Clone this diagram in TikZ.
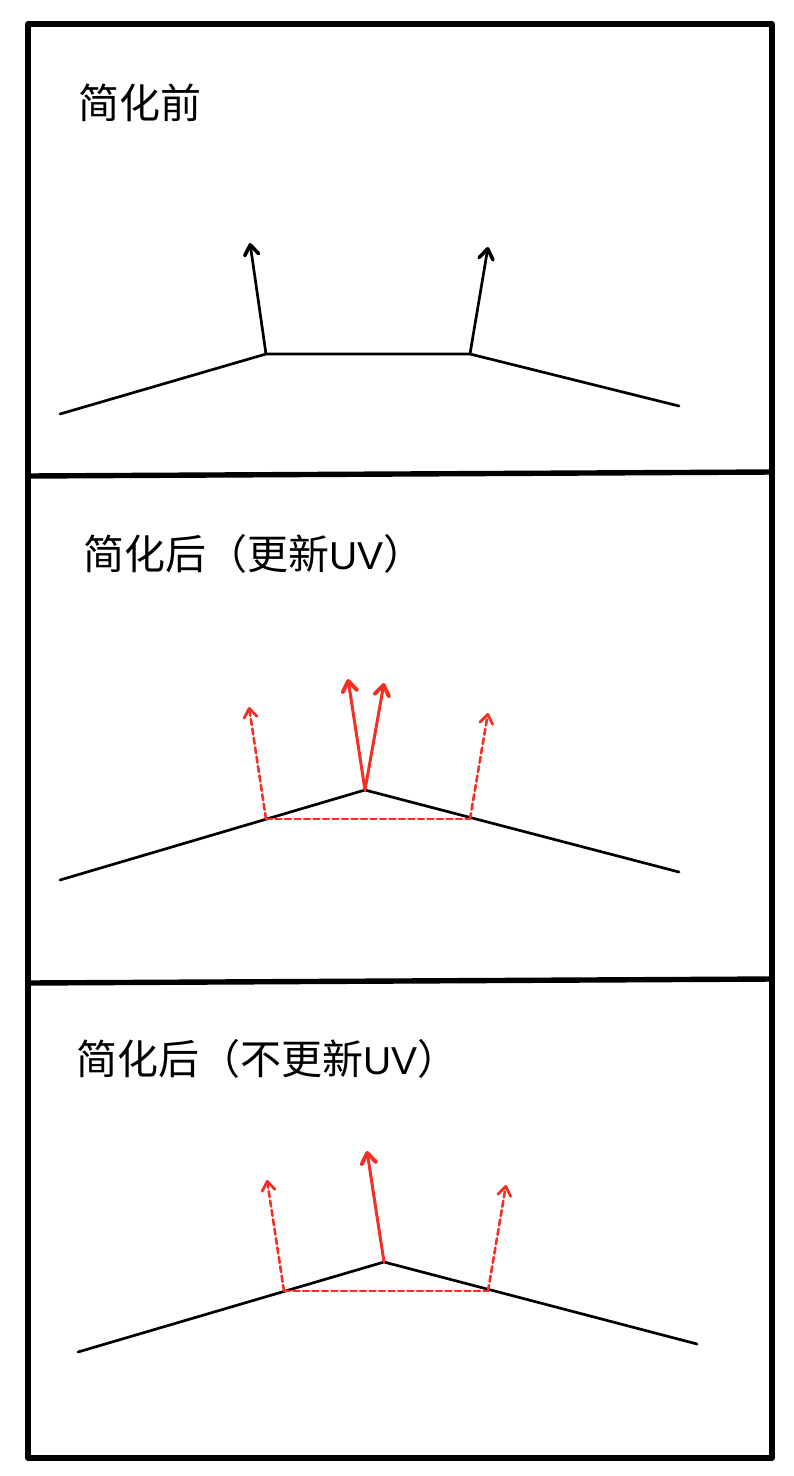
\documentclass[tikz,border=0pt]{standalone}
\usepackage{fontspec}
\setmainfont{Noto Sans CJK SC}
\newfontfamily\uvfont[Scale=0.95]{Liberation Sans}
\usetikzlibrary{arrows.meta,positioning}
\definecolor{redline}{RGB}{244,48,36}
\begin{document}
\begin{tikzpicture}[x=1pt,y=-1pt,line cap=round,line join=round,
    v/.style={inner sep=0,minimum size=0},
    title/.style={anchor=west,inner sep=0,font=\fontsize{41}{41}\selectfont},
    frameline/.style={line width=5.4pt,line cap=butt},
    edge/.style={line width=2.7pt},
    normal/.style={line width=2.7pt,-{Straight Barb[length=10pt,width=14pt,line width=3.6pt,round]}},
    newnormal/.style={draw=redline,line width=3pt,-{Straight Barb[length=10pt,width=14pt,line width=4pt,round]}},
    oldnormal/.style={draw=redline,line width=2.6pt,dash pattern=on 6pt off 3.5pt,-{Straight Barb[length=9pt,width=13pt,line width=2.8pt,round]}},
    oldedge/.style={draw=redline,line width=2.6pt,dash pattern=on 6pt off 3.5pt}]
  \useasboundingbox (0,0) rectangle (794,1476);
  % frame
  \coordinate (tl) at (28,24);
  \coordinate (tr) at (772,24);
  \coordinate (bl) at (28,1458);
  \coordinate (br) at (772,1458);
  \coordinate (al) at (28,476);
  \coordinate (ar) at (772,472);
  \coordinate (cl) at (28,983);
  \coordinate (cr) at (772,979);
  \draw[frameline] (tl) -- (tr) -- (br) -- (bl) -- cycle;
  \draw[frameline] (al) -- (ar);
  \draw[frameline] (cl) -- (cr);
  % before
  \node[title] (t1) at (78,103) {简化前};
  \node[v] (a1) at (60,414) {};
  \node[v] (a2) at (266,354) {};
  \node[v] (a3) at (470,354) {};
  \node[v] (a4) at (679,406) {};
  \node[v] (n1) at (250,243) {};
  \node[v] (n2) at (488,247) {};
  \draw[edge] (a1.center) -- (a2.center) -- (a3.center) -- (a4.center);
  \draw[normal] (a2.center) -- (n1.center);
  \draw[normal] (a3.center) -- (n2.center);
  % after, with uv
  \node[title] (t2) at (83,554) {简化后（更新{\uvfont UV}）};
  \node[v] (b1) at (60,880) {};
  \node[v] (b2) at (266,819) {};
  \node[v] (b3) at (365,790) {};
  \node[v] (b4) at (470,819) {};
  \node[v] (b5) at (679,872) {};
  \node[v] (m1) at (249,707) {};
  \node[v] (m2) at (488,713) {};
  \node[v] (m3) at (348,679) {};
  \node[v] (m4) at (384,683) {};
  \draw[edge] (b1.center) -- (b3.center) -- (b5.center);
  \draw[oldedge] (b2.center) -- (b4.center);
  \draw[oldnormal] (b2.center) -- (m1.center);
  \draw[oldnormal] (b4.center) -- (m2.center);
  \draw[newnormal] (b3.center) -- (m3.center);
  \draw[newnormal] (b3.center) -- (m4.center);
  % after, without uv
  \node[title] (t3) at (76,1059) {简化后（不更新{\uvfont UV}）};
  \node[v] (c1) at (78,1352) {};
  \node[v] (c2) at (284,1291) {};
  \node[v] (c3) at (384,1262) {};
  \node[v] (c4) at (488,1291) {};
  \node[v] (c5) at (697,1344) {};
  \node[v] (k1) at (267,1180) {};
  \node[v] (k2) at (506,1185) {};
  \node[v] (k3) at (367,1151) {};
  \draw[edge] (c1.center) -- (c3.center) -- (c5.center);
  \draw[oldedge] (c2.center) -- (c4.center);
  \draw[oldnormal] (c2.center) -- (k1.center);
  \draw[oldnormal] (c4.center) -- (k2.center);
  \draw[newnormal] (c3.center) -- (k3.center);
\end{tikzpicture}
\end{document}
